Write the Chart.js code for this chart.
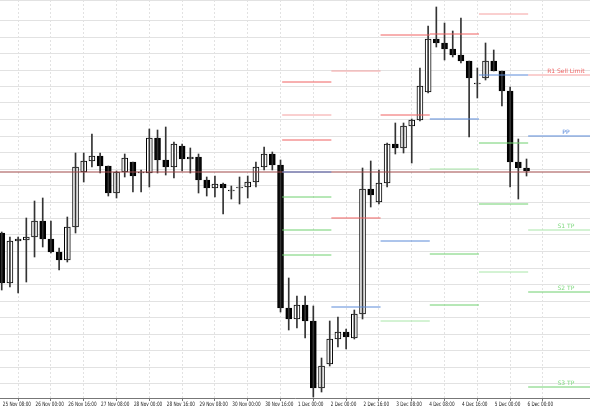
<!DOCTYPE html>
<html>
<head>
<meta charset="utf-8">
<script src="https://cdn.jsdelivr.net/npm/chart.js@4/dist/chart.umd.min.js"></script>
<style>
  body { margin: 0; background: #fff; }
  #wrap { width: 590px; height: 410px; }
</style>
</head>
<body>
<div id="wrap"><canvas id="c"></canvas></div>
<script>
// candle prices (arbitrary units, higher = up)
const opens  = [167,117,159,160,163,179,161,148,140,173,228,239,244,234,207,228,238,227,227,262,240,233,254,241,243,220,212,216,209,212,213,218,233,246,235,92,81,95,79,12,36,61,68,62,86,211,198,217,256,252,274,280,308,361,357,351,345,339,316,322,339,329,309,238,232];
const closes = [117,159,161,163,179,161,148,140,173,233,239,244,234,207,228,242,224,227,262,240,233,256,241,243,220,212,216,212,209,213,218,233,246,235,92,81,95,79,12,34,61,68,63,86,211,205,217,256,252,274,280,314,361,357,351,345,339,322,316,339,329,309,238,232,229];
const highs  = [168,163,163,182,199,202,179,152,183,247,247,266,247,234,229,246,238,230,271,270,273,258,256,252,246,223,224,217,214,223,224,238,253,248,240,122,104,104,94,42,79,83,71,90,232,239,230,257,277,277,281,332,374,393,377,369,382,339,332,357,350,329,313,261,241];
const lows   = [110,113,107,118,143,153,147,130,138,167,218,233,227,204,202,223,208,208,213,227,225,222,229,227,207,204,203,186,201,196,202,213,230,230,88,70,72,62,3,8,34,53,51,61,81,193,196,213,246,247,237,279,307,353,340,343,337,263,302,320,329,294,213,201,224];

// x axis tick labels, one every 4 candles (16 hours)
const timeLabels = ["25 Nov 08:00","26 Nov 00:00","26 Nov 16:00","27 Nov 08:00","28 Nov 00:00","28 Nov 16:00","29 Nov 08:00","30 Nov 00:00","30 Nov 16:00","1 Dec 00:00","2 Dec 00:00","2 Dec 16:00","3 Dec 08:00","4 Dec 08:00","4 Dec 16:00","5 Dec 00:00","6 Dec 00:00"];

// pivot level segments: [fromIndex, toIndex, price, kind]
const levelSegments = [
  [34.2,40.2,318,"r"],[34.2,40.2,285,"p"],[34.2,40.2,260,"r"],[34.2,40.2,228,"b"],[34.2,40.2,203,"g"],[34.2,40.2,170,"g"],[34.2,40.2,145,"g"],
  [40.2,46.2,329,"p"],[40.2,46.2,182,"r"],[40.2,46.2,93,"b"],
  [46.2,52.2,365,"r"],[46.2,52.2,285,"r"],[46.2,52.2,159,"b"],[46.2,52.2,79,"pg"],
  [52.2,58.2,366,"r"],[52.2,58.2,281,"b"],[52.2,58.2,231,"pg"],[52.2,58.2,146,"g"],[52.2,58.2,95,"g"],
  [58.2,64.2,386,"p"],[58.2,64.2,325,"b"],[58.2,64.2,257,"g"],[58.2,64.2,196,"g"],[58.2,64.2,128,"pg"],
  [64.2,71.8,325,"p"],[64.2,71.8,264,"b"],[64.2,71.8,170,"pg"],[64.2,71.8,108,"g"],[64.2,71.8,13,"g"]
];
const levelNames  = ["R1 Sell Limit","PP","S1 TP","S2 TP","S3 TP"];
const levelPrices = [325,264,170,108,13];
const levelColors = ["#f06060","#4a7fd8","#7dd87d","#7dd87d","#7dd87d"];
const currentPrice = 228;

const colorOf = { r: "#f06060", p: "#f5a0a0", b: "#5b8ad8", g: "#6fd06f", pg: "#a8e6a8" };
const idx = opens.map((_, i) => i);
const labelStep = 4;

const datasets = [];
levelSegments.forEach(s => {
  datasets.push({
    type: "line", data: [{ x: s[0], y: s[2] }, { x: s[1], y: s[2] }],
    borderColor: colorOf[s[3]], borderWidth: 1, pointRadius: 0
  });
});
datasets.push({
  type: "line", data: [{ x: -1, y: currentPrice }, { x: 73, y: currentPrice }],
  borderColor: "#a04848", borderWidth: 1, pointRadius: 0
});
datasets.push({
  type: "bar", data: idx.map(i => ({ x: i, y: [lows[i], highs[i]] })),
  backgroundColor: "#333", barThickness: 1, grouped: false
});
datasets.push({
  type: "bar", data: idx.map(i => ({ x: i, y: [opens[i], closes[i] === opens[i] ? closes[i] + 1 : closes[i]] })),
  backgroundColor: idx.map(i => closes[i] < opens[i] ? "#000" : "#fff"),
  borderColor: "#000", borderWidth: 1, borderSkipped: false, barThickness: 6, grouped: false
});

// level names on the right and squeezed time labels under the axis
const textPlugin = {
  id: "textPlugin",
  afterDatasetsDraw(chart) {
    const { ctx, scales } = chart;
    ctx.save();
    ctx.font = "6px 'DejaVu Sans'";
    ctx.textAlign = "center";
    ctx.textBaseline = "bottom";
    levelNames.forEach((n, k) => {
      ctx.fillStyle = levelColors[k];
      ctx.fillText(n, scales.x.getPixelForValue(68.8), scales.y.getPixelForValue(levelPrices[k]) - 1);
    });
    ctx.fillStyle = "#222";
    ctx.textAlign = "left";
    ctx.textBaseline = "middle";
    const yb = scales.y.bottom + 6;
    timeLabels.forEach((t, k) => {
      const xp = scales.x.getPixelForValue(k * labelStep) + 1;
      ctx.save();
      ctx.translate(xp, yb);
      ctx.scale(0.7, 1);
      ctx.fillText(t, 0, 0);
      ctx.restore();
    });
    ctx.restore();
  }
};

new Chart(document.getElementById("c"), {
  data: { datasets },
  options: {
    responsive: true, maintainAspectRatio: false, animation: false,
    layout: { padding: { bottom: 9 } },
    plugins: { legend: { display: false }, tooltip: { enabled: false } },
    scales: {
      x: {
        type: "linear", min: -0.21, max: 71.74, offset: false,
        afterBuildTicks: ax => { ax.ticks = timeLabels.map((_, k) => ({ value: k * labelStep })); },
        ticks: { display: false },
        grid: { color: "#e2e2e2", tickLength: 3, tickColor: "#777" },
        border: { color: "#777", dash: [2, 2] }
      },
      y: {
        display: true, min: 2, max: 400,
        ticks: { display: false, stepSize: 16.5 },
        grid: { color: "#e2e2e2", drawTicks: false },
        border: { display: false }
      }
    }
  },
  plugins: [textPlugin]
});
</script>
</body>
</html>
